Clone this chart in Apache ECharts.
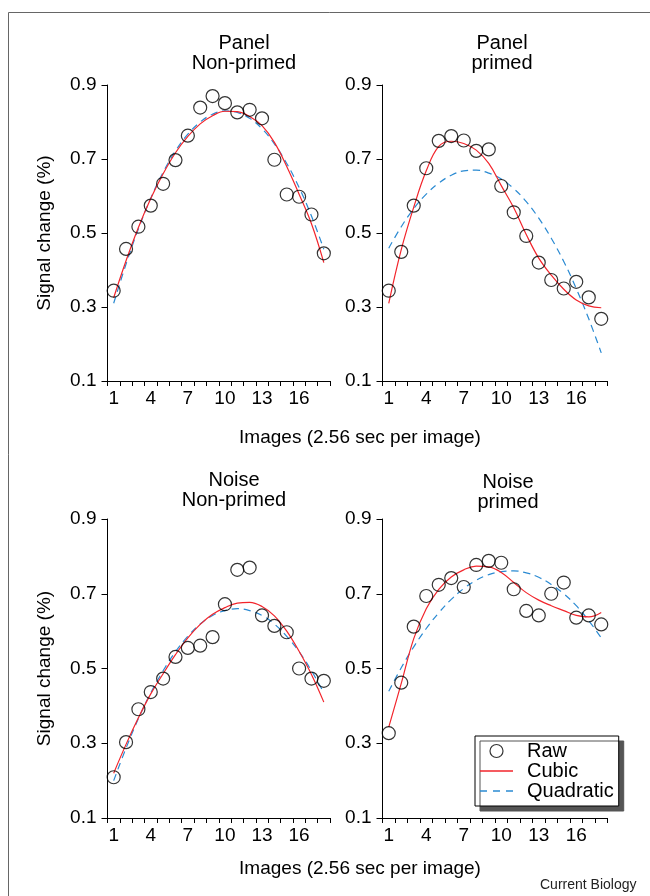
<!DOCTYPE html>
<html>
<head>
<meta charset="utf-8">
<script src="https://cdn.jsdelivr.net/npm/echarts@6/dist/echarts.min.js"></script>
<style>
html,body{margin:0;padding:0;background:#fff;}
#chart{width:650px;height:896px;}
</style>
</head>
<body>
<div id="chart"></div>
<script>
// ---------- data ----------
const categories = ['1','2','3','4','5','6','7','8','9','10','11','12','13','14','15','16','17','18'];
const yTicks = [0.1, 0.3, 0.5, 0.7, 0.9];

const panelNonPrimedRaw   = [0.344,0.457,0.517,0.574,0.633,0.697,0.763,0.839,0.870,0.851,0.826,0.833,0.810,0.698,0.604,0.598,0.550,0.445];
const panelNonPrimedCubic = [0.325,0.425,0.515,0.593,0.660,0.717,0.761,0.795,0.817,0.829,0.828,0.815,0.790,0.745,0.680,0.605,0.525,0.420];
const panelNonPrimedQuad  = [0.310,0.416,0.511,0.594,0.664,0.722,0.767,0.800,0.821,0.830,0.826,0.810,0.782,0.741,0.688,0.623,0.546,0.456];

const panelPrimedRaw   = [0.344,0.449,0.574,0.675,0.749,0.762,0.750,0.722,0.726,0.627,0.556,0.492,0.420,0.373,0.350,0.368,0.326,0.268];
const panelPrimedCubic = [0.310,0.455,0.570,0.668,0.734,0.748,0.742,0.724,0.688,0.628,0.568,0.496,0.432,0.386,0.348,0.319,0.303,0.298];
const panelPrimedQuad  = [0.459,0.517,0.566,0.605,0.635,0.656,0.668,0.670,0.662,0.646,0.620,0.585,0.540,0.486,0.423,0.350,0.268,0.176];

const noiseNonPrimedRaw   = [0.209,0.303,0.391,0.437,0.473,0.531,0.555,0.561,0.584,0.672,0.764,0.770,0.642,0.614,0.597,0.500,0.473,0.467];
const noiseNonPrimedCubic = [0.220,0.297,0.368,0.432,0.486,0.537,0.582,0.618,0.645,0.663,0.675,0.677,0.666,0.641,0.600,0.546,0.484,0.410];
const noiseNonPrimedQuad  = [0.200,0.287,0.366,0.435,0.494,0.545,0.586,0.619,0.642,0.655,0.660,0.655,0.642,0.619,0.586,0.545,0.494,0.435];

const noisePrimedRaw   = [0.327,0.462,0.612,0.694,0.724,0.742,0.718,0.777,0.788,0.783,0.712,0.654,0.642,0.700,0.730,0.636,0.642,0.618];
const noisePrimedCubic = [0.343,0.460,0.580,0.660,0.712,0.745,0.764,0.774,0.772,0.757,0.730,0.703,0.683,0.668,0.655,0.642,0.638,0.650];
const noisePrimedQuad  = [0.439,0.502,0.558,0.607,0.649,0.685,0.714,0.736,0.751,0.759,0.761,0.756,0.744,0.725,0.700,0.668,0.628,0.582];

const panelTitles = [
  ['Panel','Non-primed'],
  ['Panel','primed'],
  ['Noise','Non-primed'],
  ['Noise','primed']
];
const xAxisTitle = 'Images (2.56 sec per image)';
const yAxisTitle = 'Signal change (%)';
const legendNames = ['Raw','Cubic','Quadratic'];

// ---------- layout ----------
const FONT = '"Liberation Sans", Arial, Helvetica, sans-serif';
const grids = [
  {left:107.5, top:85,  width:222.5, height:296},
  {left:382.5, top:85,  width:225,   height:296},
  {left:107.5, top:519, width:222.5, height:299},
  {left:382.5, top:519, width:225,   height:299}
];
const titleCenters = [[239,28],[497,28],[229,465],[503,467]];
const panelData = [
  [panelNonPrimedRaw, panelNonPrimedCubic, panelNonPrimedQuad],
  [panelPrimedRaw, panelPrimedCubic, panelPrimedQuad],
  [noiseNonPrimedRaw, noiseNonPrimedCubic, noiseNonPrimedQuad],
  [noisePrimedRaw, noisePrimedCubic, noisePrimedQuad]
];
const RED = '#f2242b';
const BLUE = '#2a8ad2';

const xAxes = grids.map((g,i) => ({
  type:'category', gridIndex:i, data:categories, boundaryGap:true,
  axisLine:{show:true, lineStyle:{color:'#000', width:1}},
  axisTick:{show:true, interval:0, length:5, lineStyle:{color:'#000', width:1}},
  axisLabel:{interval:2, fontSize:19, fontFamily:FONT, color:'#000', margin:8},
  splitLine:{show:false}
}));
const yAxes = grids.map((g,i) => ({
  type:'value', gridIndex:i, min:yTicks[0], max:yTicks[yTicks.length-1], interval:0.2,
  axisLine:{show:true, lineStyle:{color:'#000', width:1}},
  axisTick:{show:true, length:6, lineStyle:{color:'#000', width:1}},
  axisLabel:{fontSize:19, fontFamily:FONT, color:'#000', margin:11,
    formatter: v => v.toFixed(1)},
  splitLine:{show:false},
  name: (i % 2 === 0) ? yAxisTitle : '',
  nameLocation:'middle', nameGap:53, nameRotate:90,
  nameTextStyle:{fontSize:19, fontFamily:FONT, color:'#000'}
}));

const series = [];
panelData.forEach((d,i) => {
  series.push({
    name:legendNames[1], type:'line', xAxisIndex:i, yAxisIndex:i, data:d[1],
    smooth:0.4, symbol:'none', lineStyle:{color:RED, width:1.2}, itemStyle:{color:RED}, z:3
  });
  series.push({
    name:legendNames[2], type:'line', xAxisIndex:i, yAxisIndex:i, data:d[2],
    smooth:0.4, symbol:'none', lineStyle:{color:BLUE, width:1.2, type:[7,5]}, itemStyle:{color:BLUE}, z:2
  });
  series.push({
    name:legendNames[0], type:'scatter', xAxisIndex:i, yAxisIndex:i, data:d[0],
    symbol:'circle', symbolSize:13,
    itemStyle:{color:'rgba(255,255,255,0)', borderColor:'#000', borderWidth:1.2}, z:4
  });
});

const titles = [];
panelTitles.forEach((t,i) => {
  titles.push({
    text: t[0] + '\n' + t[1], left: titleCenters[i][0], top: titleCenters[i][1], textAlign:'center',
    textStyle:{fontSize:20, fontWeight:'normal', fontFamily:FONT, color:'#000', lineHeight:20}
  });
});
titles.push({text:xAxisTitle, left:355, top:423, textAlign:'center',
  textStyle:{fontSize:19, fontWeight:'normal', fontFamily:FONT, color:'#000'}});
titles.push({text:xAxisTitle, left:355, top:854, textAlign:'center',
  textStyle:{fontSize:19, fontWeight:'normal', fontFamily:FONT, color:'#000'}});
titles.push({text:'Current Biology', left:535, top:873,
  textStyle:{fontSize:14, fontWeight:'normal', fontFamily:FONT, color:'#222'}});

const option = {
  animation:false,
  backgroundColor:'#fff',
  title: titles,
  grid: grids.map(g => Object.assign({containLabel:false}, g)),
  xAxis: xAxes,
  yAxis: yAxes,
  legend:{
    orient:'vertical', left:475, top:736,
    data:[
      {name:'Raw', icon:'circle', itemStyle:{color:'rgba(255,255,255,0)', borderColor:'#000', borderWidth:1.2}},
      {name:'Cubic', icon:'path://M0,0H33V1.3H0Z', itemStyle:{color:RED, borderWidth:0}},
      {name:'Quadratic', icon:'path://M0,0H7V1.3H0Z M13,0H20V1.3H13Z M26,0H33V1.3H26Z', itemStyle:{color:BLUE, borderWidth:0}}
    ],
    itemWidth:33, itemHeight:13, itemGap:0,
    padding:[5,5,5,5],
    backgroundColor:'#fff', borderColor:'#000', borderWidth:1,
    shadowColor:'#555', shadowBlur:0, shadowOffsetX:5, shadowOffsetY:5,
    textStyle:{fontSize:20, fontFamily:FONT, color:'#000', lineHeight:19, padding:[0,0,0,9]},
    selectedMode:false
  },
  graphic:[{
    type:'rect', silent:true, z:-10,
    shape:{x:8.5, y:12.5, width:800, height:1000},
    style:{fill:null, stroke:'#666', lineWidth:1}
  }],
  series: series
};

const chart = echarts.init(document.getElementById('chart'), null, {renderer:'canvas'});
chart.setOption(option);
</script>
</body>
</html>
